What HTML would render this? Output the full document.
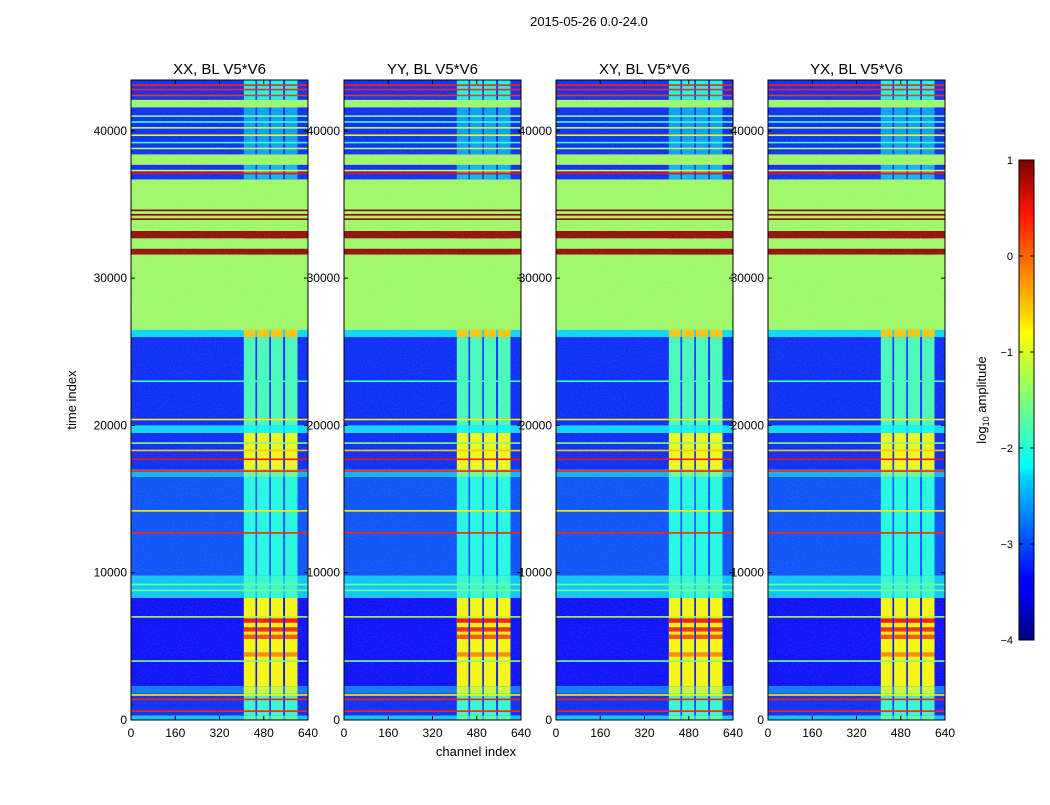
<!DOCTYPE html>
<html><head><meta charset="utf-8"><style>
body{margin:0;background:#fff;font-family:"Liberation Sans",sans-serif}
svg text{font-family:"Liberation Sans",sans-serif;fill:#000}
</style></head><body>
<svg id="chart" width="1050" height="800" viewBox="0 0 1050 800" xmlns="http://www.w3.org/2000/svg">
<defs>
<filter id="nz" x="0" y="0" width="100%" height="100%"><feTurbulence type="fractalNoise" baseFrequency="0.9 0.6" numOctaves="1" seed="3"/><feColorMatrix type="saturate" values="0"/></filter>
<linearGradient id="jetg" x1="0" y1="1" x2="0" y2="0">
<stop offset="0" stop-color="#00007f"/><stop offset="0.11" stop-color="#0000ff"/><stop offset="0.125" stop-color="#0000ff"/><stop offset="0.34" stop-color="#00d4ff"/><stop offset="0.36" stop-color="#0ff"/><stop offset="0.5" stop-color="#7dff7a"/><stop offset="0.64" stop-color="#ff0"/><stop offset="0.66" stop-color="#ffe600"/><stop offset="0.89" stop-color="#ff1300"/><stop offset="1" stop-color="#7f0000"/>
</linearGradient>
</defs>
<text x="589" y="26" font-size="13" text-anchor="middle">2015-05-26 0.0-24.0</text>
<text x="476" y="756" font-size="13" text-anchor="middle">channel index</text>
<text x="76" y="400" font-size="13" text-anchor="middle" transform="rotate(-90 76 400)">time index</text>
<g id="panels"></g>
<g id="cbar">
<rect x="1019" y="160" width="15" height="480" fill="url(#jetg)" stroke="#000" stroke-width="1"/>
<text x="986" y="400" font-size="13" text-anchor="middle" transform="rotate(-90 986 400)">log<tspan font-size="9" dy="3">10</tspan><tspan dy="-3"> amplitude</tspan></text>
</g>
</svg>
<script>
const polNames=["XX, BL V5*V6","YY, BL V5*V6","XY, BL V5*V6","YX, BL V5*V6"];
const xTicks=[0,160,320,480,640];
const yTicks=[0,10000,20000,30000,40000];
const cbTicks=[1,0,-1,-2,-3,-4];
// time segments: start, end, background log amp, channel-block log amp
const segStart=[0,300,1800,2300,8300,9800,16500,17000,19500,20000,26000,26500,31600,32000,32700,33200,36700,37700,38400,41600,42100];
const segEnd=[300,1800,2300,8300,9800,16500,17000,19500,20000,26000,26500,31600,32000,32700,33200,36700,37700,38400,41600,42100,43450];
const segBg=[-2.4,-3.2,-2.8,-3.35,-2.4,-3.0,-2.5,-3.2,-2.3,-3.2,-2.3,-1.35,0.9,-1.35,0.9,-1.35,-3.2,-1.35,-3.2,-1.35,-3.2];
const segBlock=[-1.7,-1.9,-1.1,-0.9,-1.9,-2.0,-1.6,-0.95,-2.1,-1.8,-0.6,-1.35,0.9,-1.35,0.9,-1.35,-2.5,-1.35,-2.6,-1.35,-2.1];
// channel blocks (RFI columns)
const blockStart=[408,456,506,557];
const blockEnd=[450,500,550,602];
// hot spots inside blocks
const hotStart=[5500,6000,6600,4300];
const hotEnd=[5800,6300,6900,4600];
const hotVal=[0.0,0.2,0.3,-0.3];
// full-width horizontal lines
const lineT=[600,1400,1700,4000,7000,8800,9200,12700,14200,16900,17700,18300,18800,20400,23000,34000,34300,34600,37100,37300,38800,39200,39700,40200,40600,41000,42400,42800,43100];
const lineV=[0.2,0.2,-0.8,-1.5,-1.3,-1.6,-1.6,0.2,-0.8,0.2,0.3,-0.6,-1.5,-0.8,-1.8,0.9,0.9,0.9,0.3,-0.8,-1.2,-1.8,-1.0,-1.2,-1.8,-1.5,0.1,0.2,0.2];

const NS="http://www.w3.org/2000/svg";
const panelX=[131,344,556,768],PW=177,PT=80,PB=720,TMAX=43450,CMAX=640;
const yS=t=>PB-(t/TMAX)*(PB-PT);
const xS=(c,x0)=>x0+(c/CMAX)*PW;
function jet(v){let x=(v+4)/5;x=Math.max(0,Math.min(1,x));
 const f=(a)=>Math.max(0,Math.min(1,a));
 const r=f(Math.min(4*x-1.5,-4*x+4.5)),g=f(Math.min(4*x-0.5,-4*x+3.5)),b=f(Math.min(4*x+0.5,-4*x+2.5));
 return `rgb(${Math.round(r*255)},${Math.round(g*255)},${Math.round(b*255)})`;}
function mk(tag,attrs,parent){const e=document.createElementNS(NS,tag);for(const k in attrs)e.setAttribute(k,attrs[k]);parent.appendChild(e);return e;}
const root=document.getElementById('panels');
panelX.forEach((x0,p)=>{
 const g=mk('g',{},root);
 
 
 for(let i=0;i<segStart.length;i++){
  const y1=yS(segEnd[i]),y0=yS(segStart[i]);
  const r=mk('rect',{x:x0,y:y1,width:PW,height:y0-y1,fill:jet(segBg[i])},g);
  
  
  for(let b=0;b<blockStart.length;b++){
   const br=mk('rect',{x:xS(blockStart[b],x0),y:y1,width:xS(blockEnd[b],x0)-xS(blockStart[b],x0),height:y0-y1,fill:jet(segBlock[i])},g);
   
   
  }
 }
 for(let h=0;h<hotStart.length;h++){for(let b=0;b<blockStart.length;b++){
  const y1=yS(hotEnd[h]),y0=yS(hotStart[h]);
  const hr=mk('rect',{x:xS(blockStart[b],x0),y:y1,width:xS(blockEnd[b],x0)-xS(blockStart[b],x0),height:y0-y1,fill:jet(hotVal[h])},g);
  
  
 }}
 const nz=mk('rect',{x:x0,y:PT,width:PW,height:PB-PT,filter:'url(#nz)',opacity:0.22},g);
 
 
 for(let l=0;l<lineT.length;l++){
  const ln=mk('rect',{x:x0,y:yS(lineT[l])-0.8,width:PW,height:1.6,fill:jet(lineV[l])},g);
  
  
 }
 mk('rect',{x:x0,y:PT,width:PW,height:PB-PT,fill:'none',stroke:'#000','stroke-width':1},g);
 const t=mk('text',{x:x0+PW/2,y:74,'font-size':15,'text-anchor':'middle'},g);t.textContent=polNames[p];
 
 
 xTicks.forEach(c=>{const xx=xS(c,x0);
  mk('line',{x1:xx,x2:xx,y1:PB,y2:PB-4,stroke:'#000'},g);mk('line',{x1:xx,x2:xx,y1:PT,y2:PT+4,stroke:'#000'},g);
  const tl=mk('text',{x:xx,y:737,'font-size':12,'text-anchor':'middle'},g);tl.textContent=c;
  
  });
 yTicks.forEach(v=>{const yy=yS(v);
  mk('line',{x1:x0,x2:x0+4,y1:yy,y2:yy,stroke:'#000'},g);mk('line',{x1:x0+PW,x2:x0+PW-4,y1:yy,y2:yy,stroke:'#000'},g);
  const tl=mk('text',{x:x0-4,y:yy+4,'font-size':12,'text-anchor':'end'},g);tl.textContent=v;
  
  });
});
const cb=document.getElementById('cbar');
cbTicks.forEach(v=>{const yy=160+(1-v)/5*480;
 mk('line',{x1:1019,x2:1023,y1:yy,y2:yy,stroke:'#000'},cb);mk('line',{x1:1034,x2:1030,y1:yy,y2:yy,stroke:'#000'},cb);
 const tl=mk('text',{x:1013,y:yy+4,'font-size':11,'text-anchor':'end'},cb);tl.textContent=v<0?'\u2212'+(-v):v;
 
 });
</script>
</body></html>
